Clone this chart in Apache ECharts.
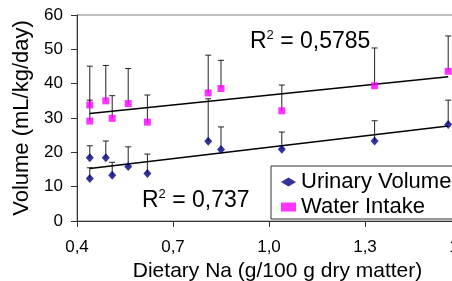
<!DOCTYPE html>
<html>
<head>
<meta charset="utf-8">
<script src="https://cdn.jsdelivr.net/npm/echarts@6/dist/echarts.min.js"></script>
<style>
  html, body { margin: 0; padding: 0; background: #fff; overflow: hidden; }
  /* the plot runs past the right edge of the window in the original */
  #chart { width: 461px; height: 281px; }
</style>
</head>
<body>
<div id="chart"></div>
<script>
// dietary Na (g/100 g dry matter) for each diet
const naLevels = [0.44, 0.44, 0.49, 0.51, 0.56, 0.62, 0.81, 0.85, 1.04, 1.33, 1.56]

// mL/kg/day, means and top of the (+) error bar
const urinaryVolume = [18.4, 12.4, 18.4, 13.3, 15.9, 13.8, 23.2, 20.8, 20.9, 23.3, 28.1]
const urinaryTop = [21.9, 15.5, 23.3, 17.1, 21.6, 19.5, 35.6, 27.4, 25.9, 29.2, 35.2]
const waterIntake = [33.8, 29.1, 35.0, 29.9, 34.2, 28.8, 37.3, 38.6, 32.1, 39.4, 43.6]
const waterTop = [45.1, 35.2, 45.3, 36.5, 44.4, 36.7, 48.3, 46.8, 39.6, 50.4, 53.9]

// linear trend lines, ends
const urinaryTrend = [[0.44, 15.3], [1.56, 27.7]]
const waterTrend = [[0.44, 31.3], [1.56, 42.0]]

const seriesNames = ['Urinary Volume', 'Water Intake']
const r2Labels = ['0,737', '0,5785']

const FONT = 'Liberation Sans, Arial, sans-serif'

const chart = echarts.init(document.getElementById('chart'))

function errorBars(values, tops) {
  return naLevels.map((x, i) => [x, values[i], tops[i]])
}

function renderErrorBar(params, api) {
  const p1 = api.coord([api.value(0), api.value(1)])
  const p2 = api.coord([api.value(0), api.value(2)])
  const style = { stroke: '#222', lineWidth: 1 }
  return {
    type: 'group',
    children: [
      { type: 'line', shape: { x1: p1[0], y1: p1[1], x2: p2[0], y2: p2[1] }, style },
      { type: 'line', shape: { x1: p2[0] - 3, y1: p2[1], x2: p2[0] + 3, y2: p2[1] }, style }
    ]
  }
}

function r2Text(value) {
  return '{a|R}{b|2}{a| = ' + value + '}'
}

const r2Rich = {
  a: { fontSize: 23, lineHeight: 26, fontFamily: FONT, fill: '#000' },
  b: { fontSize: 13, lineHeight: 13, fontFamily: FONT, fill: '#000', verticalAlign: 'top' }
}

const option = {
  animation: false,
  grid: {
    left: 77,
    top: 15,
    right: 0,
    bottom: 60,
    outerBoundsMode: 'none',
    show: true,
    borderColor: '#808080',
    borderWidth: 1
  },
  xAxis: {
    type: 'value',
    min: 0.4,
    max: 1.6,
    interval: 0.3,
    name: 'Dietary Na (g/100 g dry matter)',
    nameLocation: 'middle',
    nameGap: 37,
    nameTextStyle: { fontSize: 21, fontFamily: FONT, color: '#000', padding: [0, 0, 0, 17] },
    axisLine: { lineStyle: { color: '#333', width: 1 } },
    axisTick: { length: 6, lineStyle: { color: '#333' } },
    axisLabel: {
      fontSize: 17,
      fontFamily: FONT,
      color: '#000',
      margin: 18,
      formatter: v => v.toFixed(1).replace('.', ',')
    },
    splitLine: { show: false }
  },
  yAxis: {
    type: 'value',
    min: 0,
    max: 60,
    interval: 10,
    name: 'Volume (mL/kg/day)',
    nameLocation: 'middle',
    nameGap: 42,
    nameTextStyle: { fontSize: 22, fontFamily: FONT, color: '#000' },
    axisLine: { show: true, lineStyle: { color: '#333', width: 1 } },
    axisTick: { show: true, length: 6, lineStyle: { color: '#333' } },
    axisLabel: { fontSize: 17, fontFamily: FONT, color: '#000', margin: 14 },
    splitLine: { show: false }
  },
  legend: {
    data: seriesNames,
    orient: 'vertical',
    left: 271,
    top: 166,
    padding: [5, 10, 1, 10],
    itemGap: 3,
    itemWidth: 15,
    itemHeight: 9,
    backgroundColor: '#fff',
    borderColor: '#333',
    borderWidth: 1,
    textStyle: { fontSize: 22, lineHeight: 22, fontFamily: FONT, color: '#000' }
  },
  graphic: [
    {
      type: 'text',
      left: 250,
      top: 29,
      z: 100,
      style: { text: r2Text(r2Labels[1]), rich: r2Rich }
    },
    {
      type: 'text',
      left: 142,
      top: 188,
      z: 100,
      style: { text: r2Text(r2Labels[0]), rich: r2Rich }
    }
  ],
  series: [
    {
      type: 'custom',
      renderItem: renderErrorBar,
      data: errorBars(urinaryVolume, urinaryTop),
      z: 1,
      silent: true
    },
    {
      type: 'custom',
      renderItem: renderErrorBar,
      data: errorBars(waterIntake, waterTop),
      z: 1,
      silent: true
    },
    {
      type: 'line',
      data: urinaryTrend,
      symbol: 'none',
      lineStyle: { color: '#000', width: 1.5 },
      z: 2
    },
    {
      type: 'line',
      data: waterTrend,
      symbol: 'none',
      lineStyle: { color: '#000', width: 1.5 },
      z: 2
    },
    {
      name: seriesNames[0],
      type: 'scatter',
      data: naLevels.map((x, i) => [x, urinaryVolume[i]]),
      symbol: 'diamond',
      symbolSize: [8, 9],
      itemStyle: { color: '#000080' },
      z: 3
    },
    {
      name: seriesNames[1],
      type: 'scatter',
      data: naLevels.map((x, i) => [x, waterIntake[i]]),
      symbol: 'rect',
      symbolSize: 7,
      itemStyle: { color: '#ff00ff' },
      z: 3
    }
  ]
}

chart.setOption(option)
</script>
</body>
</html>
